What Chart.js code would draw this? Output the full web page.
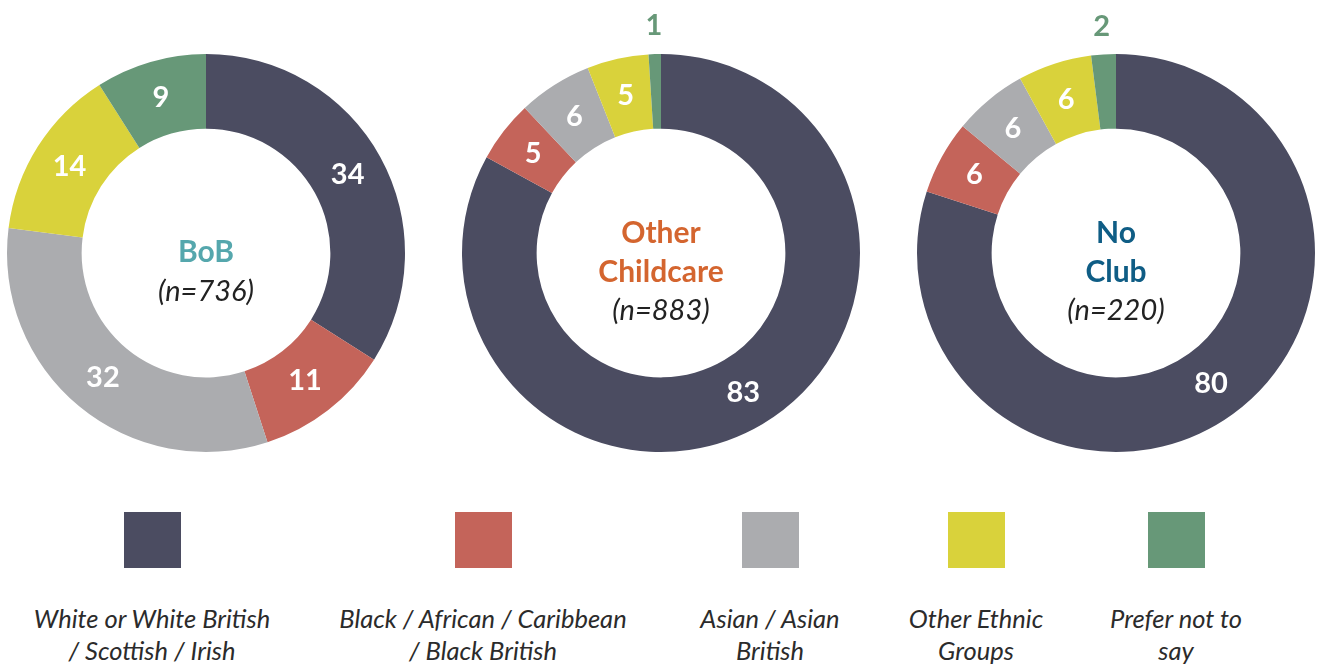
<!DOCTYPE html>
<html lang="en">
<head>
    <meta charset="UTF-8">
    <title>Ethnicity by club type</title>
    <style>
        body {
            margin: 0;
            background: #fff;
            font-family: Lato, "Open Sans", sans-serif;
        }

        .page {
            position: relative;
            width: 1320px;
            height: 668px;
            overflow: hidden;
        }

        .donut {
            position: absolute;
            top: 0;
            width: 460px;
            height: 506px;
        }

        .swatch {
            position: absolute;
            top: 512px;
            width: 57px;
            height: 56px;
        }

        .legend-text {
            position: absolute;
            top: 602px;
            width: 340px;
            text-align: center;
            font-style: italic;
            font-weight: 400;
            font-size: 25.5px;
            line-height: 32px;
            color: #2b2b2b;
        }
    </style>
</head>
<body>
    <div class="page" id="page"></div>

    <script src="https://cdn.jsdelivr.net/npm/chart.js"></script>
    <script>
        // Data
        const groups = ['White or White British / Scottish / Irish', 'Black / African / Caribbean / Black British',
            'Asian / Asian British', 'Other Ethnic Groups', 'Prefer not to say'];
        const legendLines = [
            ['White or White British', '/ Scottish / Irish'],
            ['Black / African / Caribbean', '/ Black British'],
            ['Asian / Asian', 'British'],
            ['Other Ethnic', 'Groups'],
            ['Prefer not to', 'say']
        ];
        const bobValues = [34, 11, 32, 14, 9];
        const otherChildcareValues = [83, 5, 6, 5, 1];
        const noClubValues = [80, 6, 6, 6, 2];
        const bobTitle = ['BoB'];
        const otherChildcareTitle = ['Other', 'Childcare'];
        const noClubTitle = ['No', 'Club'];
        const sampleSizes = ['(n=736)', '(n=883)', '(n=220)'];

        const colors = ['#4b4c61', '#c4645a', '#abacaf', '#d9d23b', '#679878'];
        const titleColors = ['#55a7ad', '#d4652f', '#0f5d85'];
        const centersX = [206, 661, 1116];
        const swatchLeft = [124, 455, 742, 948, 1148];
        const legendCenters = [152, 483, 770, 976, 1176];

        const page = document.getElementById('page');

        // draws the numbers on each slice plus the centre title
        const sliceLabels = {
            id: 'sliceLabels',
            afterDatasetsDraw(chart, args, opts) {
                const ctx = chart.ctx;
                const meta = chart.getDatasetMeta(0);
                const values = chart.data.datasets[0].data;
                ctx.save();
                ctx.textAlign = 'center';
                ctx.textBaseline = 'middle';
                ctx.font = 'bold 29px Lato, sans-serif';
                let cx = 0, cy = 0;
                meta.data.forEach((arc, i) => {
                    const p = arc.getProps(['x', 'y', 'startAngle', 'endAngle', 'innerRadius', 'outerRadius'], true);
                    cx = p.x; cy = p.y;
                    const mid = (p.startAngle + p.endAngle) / 2;
                    const outside = values[i] < 3;
                    const r = outside ? p.outerRadius + 28 : (p.innerRadius + p.outerRadius) / 2;
                    ctx.fillStyle = outside ? colors[i] : '#fff';
                    ctx.fillText(values[i], p.x + Math.cos(mid) * r, p.y + Math.sin(mid) * r);
                });

                // centre text
                const lines = opts.title.concat([opts.n]);
                const spacing = 39;
                const top = cy + 19 - spacing * (lines.length - 1) / 2;
                lines.forEach((line, i) => {
                    const isN = i === lines.length - 1;
                    ctx.font = isN ? 'italic 29px Lato, sans-serif' : 'bold 30px Lato, sans-serif';
                    ctx.fillStyle = isN ? '#222' : opts.color;
                    ctx.fillText(line, cx, top + i * spacing);
                });
                ctx.restore();
            }
        };

        function makeDonut(idx, values, title) {
            const wrap = document.createElement('div');
            wrap.className = 'donut';
            wrap.style.left = (centersX[idx] - 230) + 'px';
            const canvas = document.createElement('canvas');
            canvas.width = 460;
            canvas.height = 506;
            wrap.appendChild(canvas);
            page.appendChild(wrap);

            new Chart(canvas.getContext('2d'), {
                type: 'doughnut',
                data: {
                    labels: groups,
                    datasets: [{
                        data: values,
                        backgroundColor: colors,
                        borderWidth: 0
                    }]
                },
                options: {
                    responsive: false,
                    animation: false,
                    cutout: '62.5%',
                    layout: { padding: { top: 54, bottom: 54, left: 31, right: 31 } },
                    plugins: {
                        legend: { display: false },
                        tooltip: { enabled: false },
                        sliceLabels: { title: title, n: sampleSizes[idx], color: titleColors[idx] }
                    }
                },
                plugins: [sliceLabels]
            });
        }

        makeDonut(0, bobValues, bobTitle);
        makeDonut(1, otherChildcareValues, otherChildcareTitle);
        makeDonut(2, noClubValues, noClubTitle);

        // Legend
        legendLines.forEach((lines, i) => {
            const sw = document.createElement('div');
            sw.className = 'swatch';
            sw.style.left = swatchLeft[i] + 'px';
            sw.style.background = colors[i];
            page.appendChild(sw);

            const txt = document.createElement('div');
            txt.className = 'legend-text';
            txt.style.left = (legendCenters[i] - 170) + 'px';
            txt.innerHTML = lines.join('<br>');
            page.appendChild(txt);
        });
    </script>
</body>
</html>
